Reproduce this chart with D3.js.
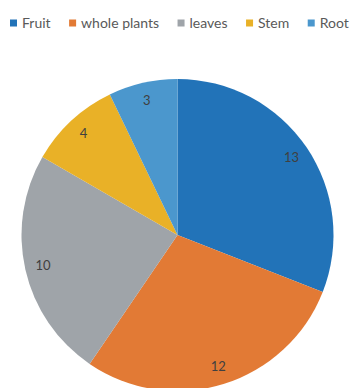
<!DOCTYPE html>
<html>
<head>
<meta charset="utf-8">
<script src="https://cdn.jsdelivr.net/npm/d3@7"></script>
<style>
  html, body { margin: 0; padding: 0; background: #fff; }
  svg { display: block; }
</style>
</head>
<body>
<svg id="chart" width="351" height="388"></svg>
<script>
// Plant parts and their counts
const categories = ["Fruit", "whole plants", "leaves", "Stem", "Root"];
const counts = [13, 12, 10, 4, 3];
const colors = ["#2273b8", "#e27a35", "#9fa4a9", "#e9b127", "#4b97cd"];

const width = 351, height = 388;
const svg = d3.select("#chart");

const cx = 177.5, cy = 235, radius = 156, labelRadius = 138;

const data = categories.map((c, i) => ({ name: c, value: counts[i], color: colors[i] }));

const pie = d3.pie().sort(null).value(d => d.value);
const arcs = pie(data);
const arc = d3.arc().innerRadius(0).outerRadius(radius);
const labelArc = d3.arc().innerRadius(labelRadius).outerRadius(labelRadius);

const g = svg.append("g").attr("transform", `translate(${cx},${cy})`);

g.selectAll("path.slice")
  .data(arcs)
  .join("path")
  .attr("class", "slice")
  .attr("d", arc)
  .attr("fill", d => d.data.color);

g.selectAll("text.value")
  .data(arcs)
  .join("text")
  .attr("class", "value")
  .attr("transform", d => `translate(${labelArc.centroid(d)})`)
  .attr("text-anchor", "middle")
  .attr("dy", "0.35em")
  .attr("font-family", "Lato, 'Open Sans', sans-serif")
  .attr("font-size", 13)
  .attr("fill", "#404040")
  .text(d => d.data.value);

// Legend row across the top
const legend = svg.append("g").attr("transform", "translate(10,23)");
const font = "Lato, 'Open Sans', sans-serif";
let x = 0;
data.forEach(d => {
  const item = legend.append("g").attr("transform", `translate(${x},0)`);
  item.append("rect").attr("x", 0).attr("y", -3.5).attr("width", 7).attr("height", 7).attr("fill", d.color);
  const t = item.append("text")
    .attr("x", 12).attr("dy", "0.35em")
    .attr("font-family", font).attr("font-size", 14)
    .attr("fill", "#595959")
    .text(d.name);
  x += 12 + t.node().getComputedTextLength() + 18.5;
});
</script>
</body>
</html>
